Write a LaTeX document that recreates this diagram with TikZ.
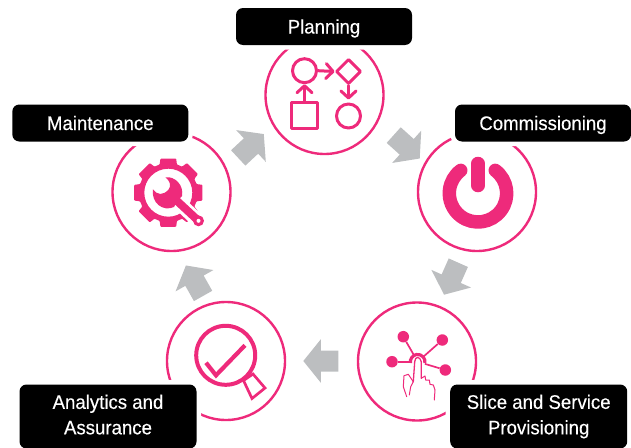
\documentclass[tikz,border=0pt]{standalone}
\usepackage{fontspec}
\usetikzlibrary{shapes.geometric,arrows.meta}
\setmainfont[FakeStretch=0.95,FakeBold=0.25]{Liberation Sans}
\definecolor{hotpink}{HTML}{EE2A7B}
\definecolor{arrowgray}{HTML}{BCBEC0}
\tikzset{
  ring/.style={circle,draw=hotpink,line width=2.4pt,minimum size=118pt,inner sep=0pt},
  tag/.style={fill=black,rounded corners=7pt,text=white,font=\fontsize{19.6}{25.5}\selectfont,align=center,inner sep=0pt,
    preaction={draw=white,line width=9pt}},
  oneline/.style={text height=14pt,text depth=0pt,minimum width=176pt,minimum height=37pt},
  twolines/.style={minimum width=177pt,minimum height=64pt},
  icon/.style={draw=hotpink,line width=3pt,line join=round,line cap=round},
  iconshape/.style={draw=hotpink,line width=3pt,inner sep=0pt,line join=round,minimum size=#1},
  chevron/.style={-{Straight Barb[length=7pt,width=15pt,round]}},
  flow/.style={fill=arrowgray,draw=none},
  pinkfill/.style={fill=hotpink,draw=none},
  ball/.style={circle,fill=hotpink,draw=none,minimum size=11.5pt,inner sep=0pt},
  spoke/.style={draw=hotpink,line width=1.7pt},
  handline/.style={draw=hotpink,line width=1pt,line join=round,line cap=round}
}
\newcommand{\flowarrow}[3]{\fill[flow,shift={(#1,#2)},rotate=#3] (-17.5,-10.5)--(0,-10.5)--(0,-21.7)--(17.5,0)--(0,21.7)--(0,10.5)--(-17.5,10.5)--cycle;}
\begin{document}
\begin{tikzpicture}[x=1pt,y=-1pt]
\useasboundingbox (0,0) rectangle (631,447);
% rings
\node[ring] (planring) at (324.5,95) {};
\node[ring] (commring) at (477,192) {};
\node[ring] (slicering) at (417,361.5) {};
\node[ring] (anaring) at (226,361) {};
\node[ring] (mainring) at (171.5,192) {};
% flow arrows
\flowarrow{251}{146}{43}
\flowarrow{406.7}{146.8}{-42}
\flowarrow{451.2}{278.7}{246}
\flowarrow{320.8}{361}{180}
\flowarrow{194.5}{280.7}{119.4}
% labels
\node[tag,oneline] (plan) at (324,26.5) {Planning};
\node[tag,oneline] (comm) at (543,123) {Commissioning};
\node[tag,oneline] (maint) at (100.3,123) {Maintenance};
\node[tag,twolines] (slice) at (538.7,416.5) {Slice and Service\\Provisioning};
\node[tag,twolines] (ana) at (108,416.5) {Analytics and\\Assurance\vphantom{g}};
% planning icon
\node[iconshape=24pt,circle] (pa) at (304.5,70.7) {};
\node[iconshape=25pt,diamond,aspect=1] (pb) at (348.5,71.5) {};
\node[iconshape=26pt,rectangle] (pc) at (304.5,115.3) {};
\node[iconshape=24pt,circle] (pd) at (348.5,116) {};
\draw[icon,chevron] (pa.east) -- (pb.west);
\draw[icon,chevron,shorten >=3pt] (pb.south) -- (pd.north);
\draw[icon,chevron] (pc.north) -- (pa.south);
% power icon
\draw[draw=hotpink,line width=13.5pt,line cap=round] (495.27,170.38) arc[start angle=53,end angle=-233,radius=28.7pt];
\draw[draw=hotpink,line width=13.3pt,line cap=round] (478,163.4) -- (478,185.6);
% gear icon
\fill[pinkfill,even odd rule,shift={(168.3,192.7)},rounded corners=0.8pt]
  (-17:29.5) \foreach \a in {0,45,...,315} { -- (\a-13:35) -- (\a+13:35) -- (\a+17:29.5) -- (\a+28:29.5) } -- cycle
  (0,0) circle (24pt);
\draw[draw=white,line width=14pt] (176,200) -- (196,219);
\fill[pinkfill] (165.3,177.3) .. controls (175,176) and (184,185) .. (182,196)
  -- (178,200) -- (174,207) .. controls (163,212) and (151,203) .. (153,189.3)
  .. controls (157,195) and (163,196) .. (168.7,189.3)
  .. controls (171,186) and (171,182) .. (165.3,177.3) -- cycle;
\draw[draw=hotpink,line width=8pt] (176,200) -- (197,219.5);
\fill[pinkfill] (198.5,220.8) circle (5.5pt);
\fill[white] (198.5,220.8) circle (2pt);
% magnifier icon
\node[circle,draw=hotpink,line width=4pt,minimum size=59pt,inner sep=0pt] (lens) at (225.7,355.3) {};
\draw[draw=hotpink,line width=4.2pt] (206,362.7) -- (216,375.3)-- (245,345.3);
\draw[draw=hotpink,line width=2.7pt,line join=miter] (243.5,380.5) -- (253,374) -- (265,388) -- (252,398.5) -- cycle;
% touch icon
\node[circle,minimum size=14.6pt,inner sep=0pt] (hub) at (417.7,361.7) {};
\node[ball] (b1) at (403.3,336.7) {};
\node[ball] (b2) at (442.3,340) {};
\node[ball] (b3) at (392,361.7) {};
\node[ball] (b4) at (445.3,370) {};
\draw[spoke] (hub) -- (b1);
\draw[spoke] (hub) -- (b2);
\draw[spoke] (hub) -- (b3);
\draw[spoke] (hub) -- (b4);
\draw[draw=hotpink,line width=3.2pt] (410.5,363) arc[start angle=190,end angle=-10,radius=7.3pt];
\draw[handline,line width=1.3pt] (413.3,381.7) -- (414.7,361.7) .. controls (415,356) and (420,356) .. (421.3,361.7) -- (421.3,378.3);
\draw[handline] (421.3,378.3) -- (425,376) -- (425.7,380) -- (429.3,380) -- (430,384.3) -- (433.3,385) -- (435,390) -- (434.3,400);
\draw[handline] (413.3,381.7) -- (410.7,386.7) -- (409.3,395);
\draw[handline] (413.3,381.7) -- (408.3,374.3) -- (404,375.7) -- (403.3,386.7) -- (406.7,396.7);
\end{tikzpicture}
\end{document}
